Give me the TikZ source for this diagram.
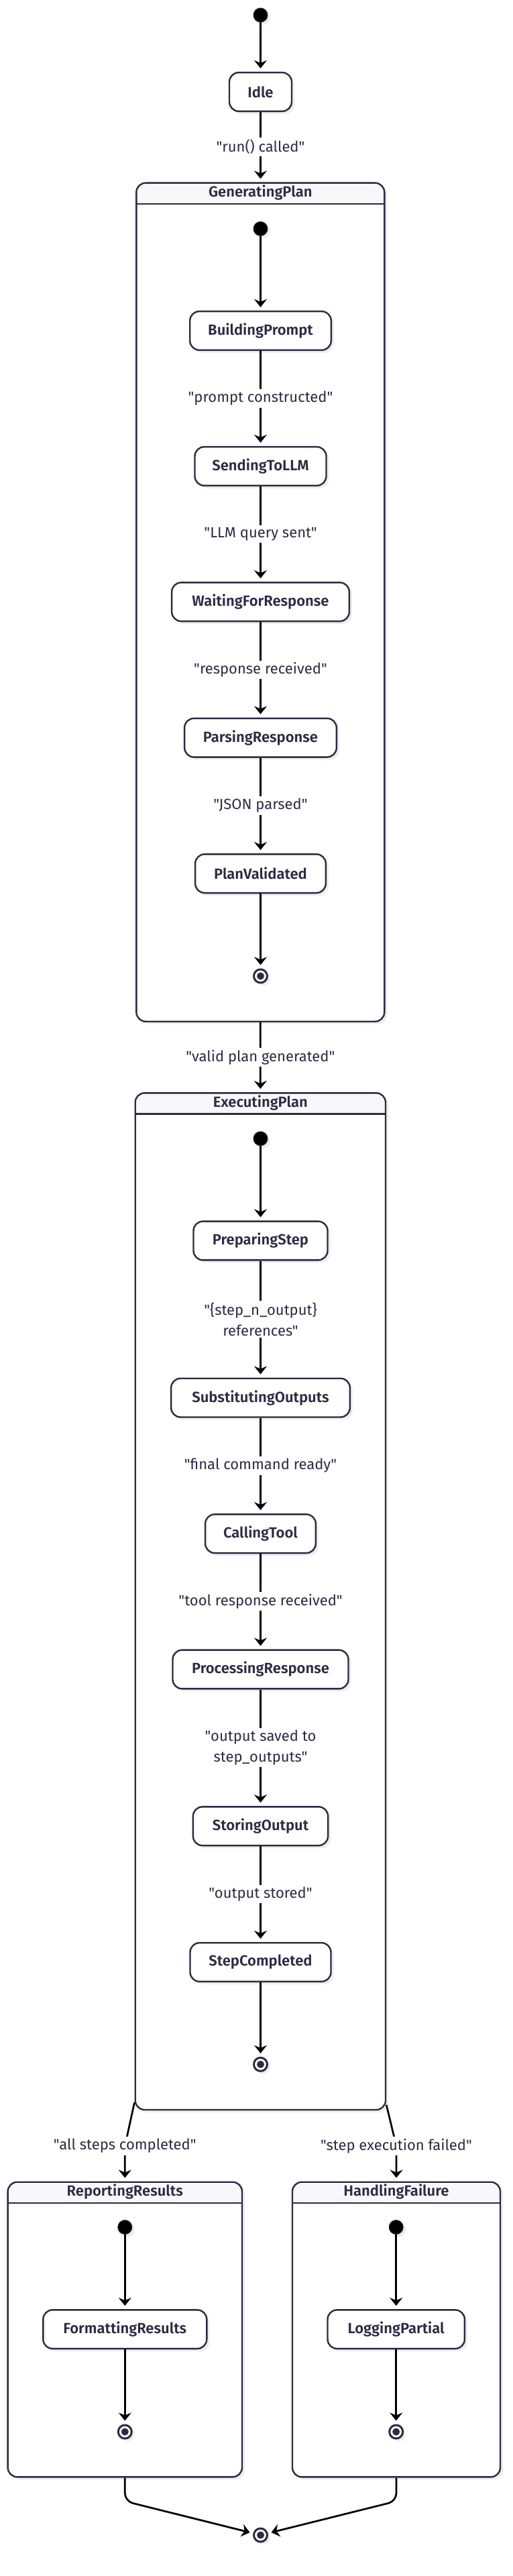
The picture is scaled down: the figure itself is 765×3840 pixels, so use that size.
\documentclass[tikz,border=0pt]{standalone}
\usepackage{fontspec}
\setmainfont{Fira Sans}[Ligatures=TeXOff, BoldFont={* SemiBold}]
\usetikzlibrary{arrows.meta,shadows,calc}
\definecolor{navy}{HTML}{2B2B42}
\definecolor{hdr}{HTML}{F8F8FA}
\begin{document}
\begin{tikzpicture}[x=1pt,y=-1pt,
  shad/.style={drop shadow={shadow xshift=4pt,shadow yshift=-4pt,fill=black,opacity=0.07}},
  state/.style={draw=navy, line width=2.4pt, fill=white, rounded corners=14pt, minimum height=57.7pt, inner sep=0pt, text=navy, font=\fontsize{22}{26}\selectfont\bfseries, shad},
  comp/.style={draw=navy, line width=2.4pt, fill=white, rounded corners=14pt, inner sep=0pt, shad,
    path picture={\fill[hdr, sharp corners] (path picture bounding box.north west) rectangle ([yshift=-31pt]path picture bounding box.north east);
      \draw[navy, line width=2.4pt, sharp corners] ([yshift=-31pt]path picture bounding box.north west) -- ([yshift=-31pt]path picture bounding box.north east);}},
  ttl/.style={text=navy, font=\fontsize{22}{26}\selectfont\bfseries, inner sep=0pt},
  initdot/.style={circle, fill=black, draw=navy, line width=1pt, minimum size=21pt, inner sep=0pt, shad},
  finalst/.style={circle, draw=navy, line width=3pt, fill=white, minimum size=20pt, inner sep=0pt, shad,
    path picture={\fill[navy] (path picture bounding box.center) circle (5.5pt);}},
  arr/.style={draw=black, line width=2.7pt, -{Stealth[length=12pt,width=19pt,inset=4pt]}, shorten >=5pt},
  elabel/.style={fill=white, text=navy, font=\fontsize{22}{31}\selectfont, inner xsep=2pt, inner ysep=3pt, align=center}
]
\useasboundingbox (0,0) rectangle (765,3840);
\fill[white] (0,0) rectangle (765,3840);

% top
\node[initdot] (s0) at (388.5,22.5) {};
\node[state, minimum width=93pt] (idle) at (388.5,137) {Idle};

% GeneratingPlan
\node[comp, minimum width=370pt, minimum height=1250pt] (gen) at (388.3,897.7) {};
\node[ttl] (genT) at ([yshift=-15.5pt]gen.north) {GeneratingPlan};
\node[initdot] (g0) at (388.5,341) {};
\node[state, minimum width=210.6pt] (bp) at (388.5,493) {BuildingPrompt};
\node[state, minimum width=196pt] (sl) at (388.5,695) {SendingToLLM};
\node[state, minimum width=264.7pt] (wr) at (388.5,897.2) {WaitingForResponse};
\node[state, minimum width=226.7pt] (pr) at (388.5,1099.7) {ParsingResponse};
\node[state, minimum width=194.7pt] (pv) at (388.5,1302.2) {PlanValidated};
\node[finalst] (g1) at (388.5,1455) {};

% ExecutingPlan
\node[comp, minimum width=373.3pt, minimum height=1515.7pt] (exe) at (388.35,2387.15) {};
\node[ttl] (exeT) at ([yshift=-15.5pt]exe.north) {ExecutingPlan};
\node[initdot] (e0) at (388.5,1697.3) {};
\node[state, minimum width=200pt] (ps) at (388.5,1849.5) {PreparingStep};
\node[state, minimum width=266.7pt] (so) at (388.5,2083.6) {SubstitutingOutputs};
\node[state, minimum width=164.7pt] (ct) at (388.5,2286.2) {CallingTool};
\node[state, minimum width=262pt] (prr) at (388.5,2488.5) {ProcessingResponse};
\node[state, minimum width=201.3pt] (sto) at (388.5,2722.2) {StoringOutput};
\node[state, minimum width=210pt] (sc) at (388.5,2925) {StepCompleted};
\node[finalst] (e1) at (388.5,3077.3) {};

% ReportingResults
\node[comp, minimum width=349.3pt, minimum height=439.6pt] (rep) at (186.3,3472.5) {};
\node[ttl] (repT) at ([yshift=-15.5pt]rep.north) {ReportingResults};
\node[initdot] (r0) at (186.3,3320) {};
\node[state, minimum width=244pt] (fr) at (186.3,3472.2) {FormattingResults};
\node[finalst] (r1) at (186.3,3625) {};

% HandlingFailure
\node[comp, minimum width=310pt, minimum height=439.6pt] (hf) at (591,3472.5) {};
\node[ttl] (hfT) at ([yshift=-15.5pt]hf.north) {HandlingFailure};
\node[initdot] (h0) at (590.7,3320) {};
\node[state, minimum width=204.4pt] (lp) at (590.7,3472.2) {LoggingPartial};
\node[finalst] (h1) at (590.7,3625) {};

\node[finalst] (fin) at (388.5,3779) {};

% connectors
\draw[arr] (s0) -- (idle);
\draw[arr] (idle) -- node[elabel]{"run() called"} (idle |- gen.north);
\draw[arr] (g0) -- (bp);
\draw[arr] (bp) -- node[elabel]{"prompt constructed"} (sl);
\draw[arr] (sl) -- node[elabel]{"LLM query sent"} (wr);
\draw[arr] (wr) -- node[elabel]{"response received"} (pr);
\draw[arr] (pr) -- node[elabel]{"JSON parsed"} (pv);
\draw[arr] (pv) -- (g1);
\draw[arr] (gen.south) -- node[elabel]{"valid plan generated"} (exe.north);
\draw[arr] (e0) -- (ps);
\draw[arr] (ps) -- node[elabel]{"\{step\_n\_output\}\\references"} (so);
\draw[arr] (so) -- node[elabel]{"final command ready"} (ct);
\draw[arr] (ct) -- node[elabel]{"tool response received"} (prr);
\draw[arr] (prr) -- node[elabel]{"output saved to\\step\_outputs"} (sto);
\draw[arr] (sto) -- node[elabel]{"output stored"} (sc);
\draw[arr] (sc) -- (e1);

\coordinate (lA) at ([yshift=12pt]exe.south west);
\coordinate (lB) at (186.3,3199);
\draw[arr] (lA) -- (lB) -- (rep.north);
\node[elabel] (lblL) at (lB) {"all steps completed"};
\coordinate (rA) at ([yshift=8.5pt]exe.south east);
\coordinate (rB) at (591,3199);
\draw[arr] (rA) -- (rB) -- (hf.north);
\node[elabel] (lblR) at (rB) {"step execution failed"};

\draw[arr] (r0) -- (fr);
\draw[arr] (fr) -- (r1);
\draw[arr] (h0) -- (lp);
\draw[arr] (lp) -- (h1);

\draw[arr, rounded corners=12pt] (rep.south) -- ++(0,35) -- (fin);
\draw[arr, rounded corners=12pt] (hf.south) -- ++(0,35) -- (fin);
\end{tikzpicture}
\end{document}
